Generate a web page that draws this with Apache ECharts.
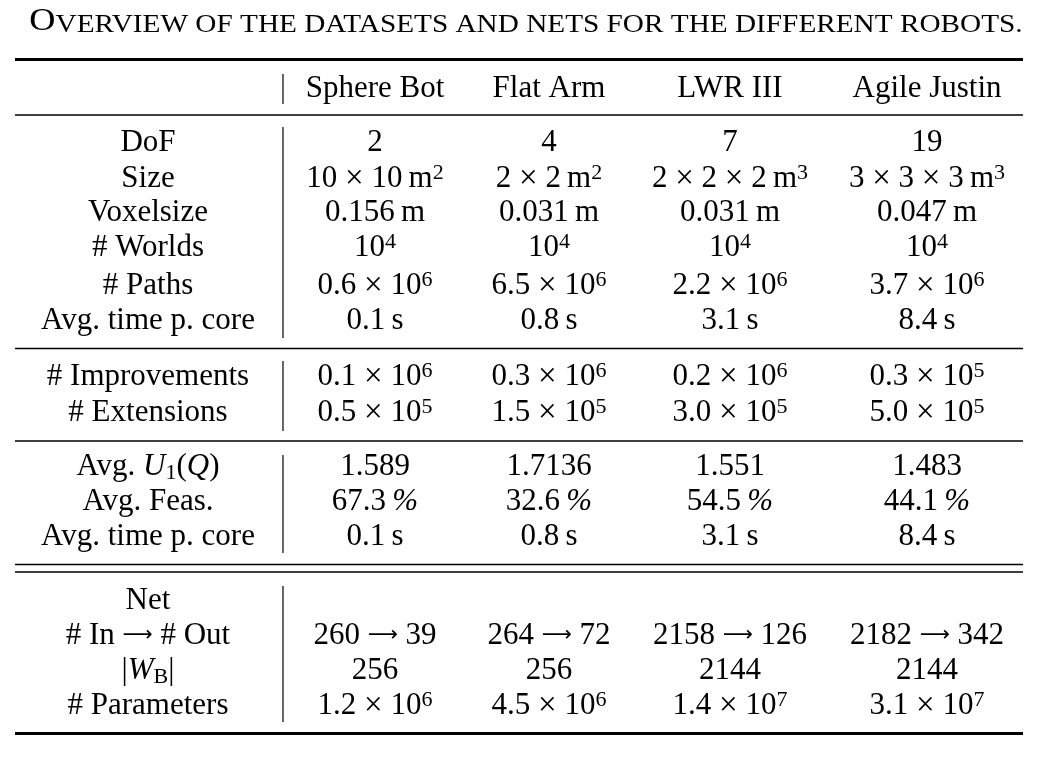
<!DOCTYPE html>
<html>
<head>
<meta charset="utf-8">
<script src="https://cdn.jsdelivr.net/npm/echarts@6/dist/echarts.min.js"></script>
<style>html,body{margin:0;padding:0;background:#fff}#c{width:1044px;height:757px}</style>
</head>
<body>
<div id="c"></div>
<script>
// ---------- table content ----------
const title = '{o|O}{sc|VERVIEW OF THE DATASETS AND NETS FOR THE DIFFERENT ROBOTS.}';
const robots = ['Sphere Bot', 'Flat Arm', 'LWR III', 'Agile Justin'];

const labelsData = ['DoF', 'Size', 'Voxelsize', '# Worlds', '# Paths', 'Avg. time p. core'];
const dof = ['2', '4', '7', '19'];
const envSize = ['10 × 10\u2009m{sup|2}', '2 × 2\u2009m{sup|2}', '2 × 2 × 2\u2009m{sup|3}', '3 × 3 × 3\u2009m{sup|3}'];
const voxelSize = ['0.156\u2009m', '0.031\u2009m', '0.031\u2009m', '0.047\u2009m'];
const worlds = ['10{sup|4}', '10{sup|4}', '10{sup|4}', '10{sup|4}'];
const paths = ['0.6 × 10{sup|6}', '6.5 × 10{sup|6}', '2.2 × 10{sup|6}', '3.7 × 10{sup|6}'];
const timeCore = ['0.1\u2009s', '0.8\u2009s', '3.1\u2009s', '8.4\u2009s'];

const labelsSearch = ['# Improvements', '# Extensions'];
const improvements = ['0.1 × 10{sup|6}', '0.3 × 10{sup|6}', '0.2 × 10{sup|6}', '0.3 × 10{sup|5}'];
const extensions = ['0.5 × 10{sup|5}', '1.5 × 10{sup|5}', '3.0 × 10{sup|5}', '5.0 × 10{sup|5}'];

const labelsQuality = ['Avg. {it|U}{sub|1}({it|Q})', 'Avg. Feas.', 'Avg. time p. core'];
const avgU = ['1.589', '1.7136', '1.551', '1.483'];
const avgFeas = ['67.3\u2009{it|%}', '32.6\u2009{it|%}', '54.5\u2009{it|%}', '44.1\u2009{it|%}'];
const avgTime = ['0.1\u2009s', '0.8\u2009s', '3.1\u2009s', '8.4\u2009s'];

const labelsNet = ['Net', '# In → # Out', '|{it|W}{sub|B}|', '# Parameters'];
const netBlank = ['', '', '', ''];
const inOut = ['260 → 39', '264 → 72', '2158 → 126', '2182 → 342'];
const wB = ['256', '256', '2144', '2144'];
const nParams = ['1.2 × 10{sup|6}', '4.5 × 10{sup|6}', '1.4 × 10{sup|7}', '3.1 × 10{sup|7}'];

// ---------- layout (positions in the chart's own coordinate space) ----------
const colX = [148, 375, 549, 730, 927];
const headerY = 89;
const sections = [
  { labels: labelsData, rows: [dof, envSize, voxelSize, worlds, paths, timeCore], ys: [143, 179, 213, 248, 286, 321], bar: [127, 338] },
  { labels: labelsSearch, rows: [improvements, extensions], ys: [377, 413], bar: [361, 431] },
  { labels: labelsQuality, rows: [avgU, avgFeas, avgTime], ys: [467, 502, 537], bar: [455, 553] },
  { labels: labelsNet, rows: [netBlank, inOut, wB, nParams], ys: [601, 636, 671, 706], bar: [586, 722] }
];
const rules = [[59.5, 3], [115, 1.5], [348.5, 1.5], [441, 1.5], [564.5, 1.5], [572, 1.5], [733.5, 3]];
const ruleX = [15, 1023];
const barX = 283;
const headerBar = [74, 104];

const FONT = '"Liberation Serif","Times New Roman",Times,serif';
const FS = 31;
const INK = '#000';

function markup(t) {
  return t.replace(/×/g, '{x|×}').replace(/ → /g, ' {ar|⟶} ');
}

const cells = [];
robots.forEach((r, i) => cells.push({ x: colX[i + 1], y: headerY, t: r }));
sections.forEach(s => {
  s.labels.forEach((lab, j) => {
    cells.push({ x: colX[0], y: s.ys[j], t: lab });
    s.rows[j].forEach((v, i) => { if (v !== '') cells.push({ x: colX[i + 1], y: s.ys[j], t: v }); });
  });
});

const segs = [];
rules.forEach(r => segs.push({ x1: ruleX[0], y1: r[0], x2: ruleX[1], y2: r[0], w: r[1] }));
segs.push({ x1: barX, y1: headerBar[0], x2: barX, y2: headerBar[1], w: 1.2 });
sections.forEach(s => segs.push({ x1: barX, y1: s.bar[0], x2: barX, y2: s.bar[1], w: 1.2 }));

const richCell = {
  sup: { fontFamily: FONT, fontSize: 22, lineHeight: 20, verticalAlign: 'top', fill: INK },
  sub: { fontFamily: FONT, fontSize: 22, lineHeight: 20, verticalAlign: 'bottom', fill: INK },
  it: { fontFamily: FONT, fontSize: FS, lineHeight: 34, fontStyle: 'italic', fill: INK },
  x: { fontFamily: FONT, fontSize: 33, lineHeight: 34, fill: INK },
  ar: { fontFamily: '"DejaVu Sans",' + FONT, fontSize: 21, lineHeight: 34, fill: INK }
};

const chart = echarts.init(document.getElementById('c'), null, { renderer: 'canvas' });
chart.setOption({
  animation: false,
  backgroundColor: '#fff',
  grid: { left: 0, right: 0, top: 0, bottom: 0 },
  xAxis: { type: 'value', min: 0, max: 1044, show: false },
  yAxis: { type: 'value', min: 0, max: 757, inverse: true, show: false },
  series: [
    {
      type: 'custom', coordinateSystem: 'cartesian2d', silent: true, clip: false,
      data: segs.map(s => [s.x1, s.y1, s.x2, s.y2]),
      renderItem: (params, api) => {
        const a = api.coord([api.value(0), api.value(1)]);
        const b = api.coord([api.value(2), api.value(3)]);
        return { type: 'line', shape: { x1: a[0], y1: a[1], x2: b[0], y2: b[1] },
                 style: { stroke: INK, lineWidth: segs[params.dataIndex].w } };
      }
    },
    {
      type: 'custom', coordinateSystem: 'cartesian2d', silent: true, clip: false,
      data: cells.map(c => [c.x, c.y]),
      renderItem: (params, api) => {
        const p = api.coord([api.value(0), api.value(1)]);
        return { type: 'text', x: p[0], y: p[1],
                 style: { text: markup(cells[params.dataIndex].t), fontFamily: FONT, fontSize: FS, lineHeight: 34,
                          fill: INK, align: 'center', verticalAlign: 'middle', rich: richCell } };
      }
    },
    {
      type: 'custom', coordinateSystem: 'cartesian2d', silent: true, clip: false,
      data: [[526, 27]],
      renderItem: (params, api) => {
        const p = api.coord([api.value(0), api.value(1)]);
        return { type: 'text', x: p[0], y: p[1], scaleX: 1.17,
                 style: { text: title, align: 'center', verticalAlign: 'middle', fill: INK,
                          rich: {
                            o: { fontFamily: FONT, fontSize: 31, lineHeight: 21, verticalAlign: 'bottom', fill: INK },
                            sc: { fontFamily: FONT, fontSize: 25, lineHeight: 17, verticalAlign: 'bottom', fill: INK }
                          } } };
      }
    }
  ]
});
</script>
</body>
</html>
